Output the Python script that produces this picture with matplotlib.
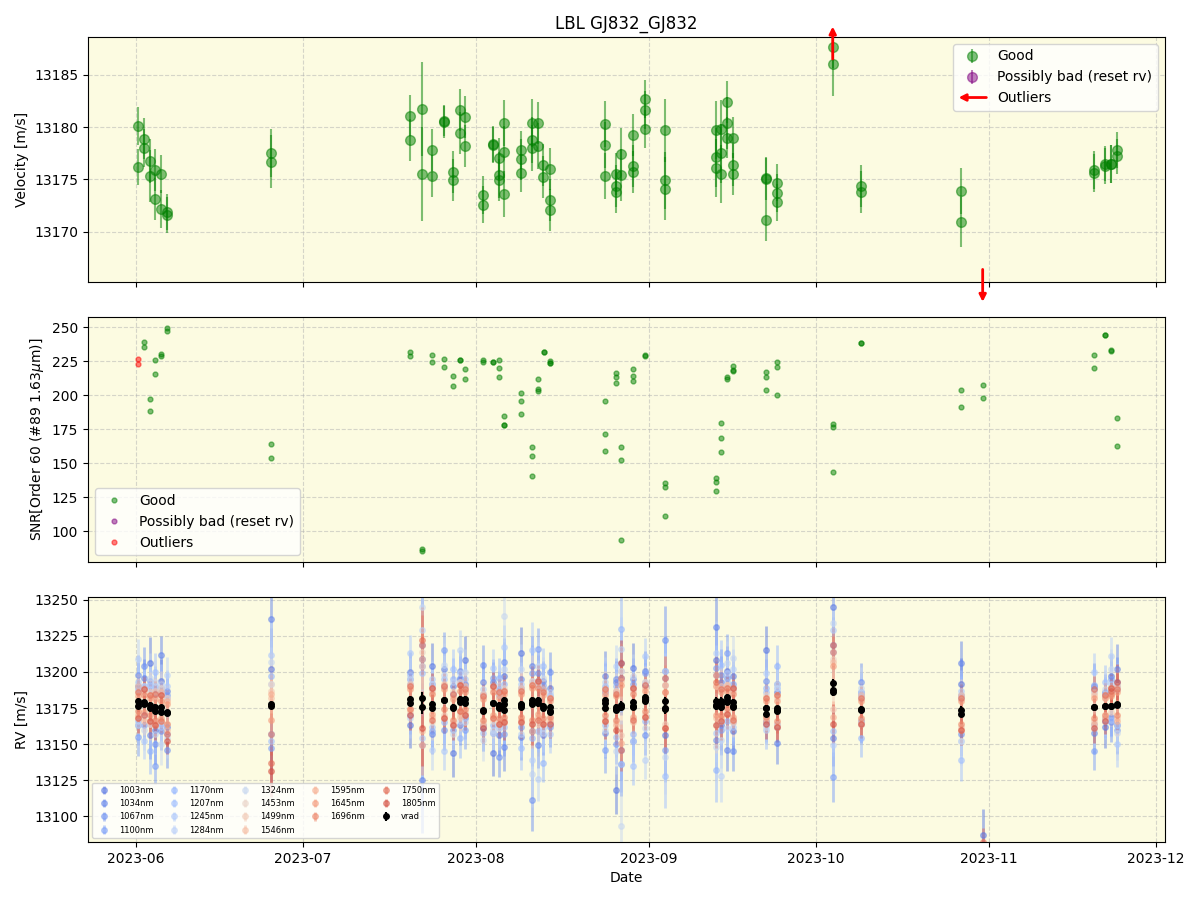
import numpy as np
import matplotlib
matplotlib.use('Agg')
import matplotlib.pyplot as plt
import matplotlib.dates as mdates
from matplotlib.patches import FancyArrowPatch
from matplotlib.legend_handler import HandlerPatch

BASE_DATE = '2023-06-01'
TITLE = 'LBL GJ832_GJ832'

# ---------------- top panel: velocity per observation (days since 2023-06-01) ----------------
rv_day = [0.4, 0.4, 1.4, 1.4, 2.5, 2.5, 3.4, 3.4, 4.5, 4.5, 5.6, 5.6, 24.3, 24.3,
          49.2, 49.2, 51.3, 51.3, 53.1, 53.1, 55.3, 55.3, 56.8, 56.8, 58.1, 58.1,
          59.1, 59.1, 62.2, 62.2, 64.0, 64.0, 65.1, 65.1, 65.1, 66.1, 66.1, 66.1,
          69.1, 69.1, 69.1, 71.0, 71.0, 71.0, 72.1, 72.1, 73.0, 73.0, 74.2, 74.2, 74.2,
          84.2, 84.2, 84.2, 86.1, 86.1, 86.1, 87.0, 87.0, 89.1, 89.1, 89.1,
          91.25, 91.25, 91.25, 95.0, 95.0, 95.0, 104.1, 104.1, 104.1, 105.0, 105.0, 105.0,
          106.1, 106.1, 106.1, 107.1, 107.1, 107.1, 113.1, 113.1, 113.1, 115.0, 115.0, 115.0,
          125.0, 125.0, 130.0, 130.0, 148.0, 148.0, 171.9, 171.9, 173.9, 173.9,
          175.0, 175.0, 176.0, 176.0]
rv_val = [13180.1, 13176.2, 13178.9, 13178.0, 13176.8, 13175.3, 13175.9, 13173.1,
          13175.5, 13172.2, 13171.9, 13171.6, 13177.5, 13176.7,
          13181.1, 13178.8, 13181.7, 13175.5, 13177.8, 13175.3, 13180.6, 13180.5,
          13175.7, 13174.9, 13181.6, 13179.4, 13181.0, 13178.2, 13173.5, 13172.6,
          13178.4, 13178.3, 13177.0, 13175.4, 13174.9, 13180.4, 13177.6, 13173.6,
          13177.8, 13176.9, 13175.6, 13180.4, 13178.8, 13178.0, 13180.4, 13178.2,
          13176.4, 13175.2, 13176.0, 13173.0, 13172.1,
          13180.3, 13178.3, 13175.3, 13175.5, 13174.4, 13173.8, 13177.4, 13175.4,
          13179.2, 13176.3, 13175.7, 13182.7, 13181.6, 13179.8, 13179.7, 13174.9, 13174.1,
          13179.7, 13177.1, 13176.1, 13179.8, 13177.5, 13175.5,
          13182.4, 13180.4, 13179.0, 13179.0, 13176.4, 13175.5, 13175.1, 13175.0, 13171.1,
          13174.7, 13173.7, 13172.8, 13187.6, 13186.0, 13174.4, 13173.8, 13173.9, 13170.9,
          13175.9, 13175.6, 13176.5, 13176.3, 13176.5, 13176.5, 13177.8, 13177.2]
rv_err = [1.8, 1.7, 2.0, 1.8, 2.1, 2.5, 2.0, 2.0, 1.8, 1.8, 1.7, 1.7, 2.3, 2.5,
          2.0, 2.0, 4.5, 4.5, 2.0, 2.0, 1.5, 1.5, 2.0, 2.0, 2.0, 2.0, 2.0, 2.0, 1.8, 1.8,
          1.7, 1.7, 2.0, 2.2, 2.0, 2.2, 2.5, 2.2, 1.8, 2.0, 1.8, 2.3, 2.2, 2.2, 2.0, 2.2,
          2.0, 2.0, 2.0, 2.0, 2.0, 2.2, 2.2, 2.2, 2.0, 2.0, 2.0, 2.5, 2.5,
          2.0, 2.0, 2.0, 1.8, 1.8, 1.8, 3.0, 2.7, 3.0, 2.8, 2.8, 2.8, 2.8, 2.8, 2.8,
          2.0, 2.5, 2.0, 2.0, 2.0, 2.0, 2.0, 2.0, 2.0, 1.8, 1.8, 1.8, 2.0, 3.0, 2.0, 2.0,
          2.2, 2.4, 1.8, 1.8, 1.7, 1.7, 1.8, 1.8, 1.7, 1.7]

# outliers (off the top panel scale)
out_day = [125.0, 151.9]
out_val = [13192.4, 13076.0]
out_err = [2.5, 3.0]

# ---------------- middle panel: SNR ----------------
snr_day = [1.4, 1.4, 2.5, 2.5, 3.4, 3.4, 4.5, 4.5, 5.6, 5.6, 24.3, 24.3,
           49.2, 49.2, 51.3, 51.3, 53.1, 53.1, 55.3, 55.3, 56.8, 56.8, 58.1, 58.1,
           59.1, 59.1, 62.2, 62.2, 64.0, 64.0, 65.1, 65.1, 65.1, 66.1, 66.1, 66.1,
           69.1, 69.1, 69.1, 71.0, 71.0, 71.0, 72.1, 72.1, 72.1, 73.2, 73.2, 74.2, 74.2, 74.2,
           84.2, 84.2, 84.2, 86.1, 86.1, 86.1, 87.0, 87.0, 87.0, 89.1, 89.1, 89.1,
           91.25, 91.25, 95.0, 95.0, 95.0, 104.1, 104.1, 104.1, 105.0, 105.0, 105.0,
           106.1, 106.1, 107.1, 107.1, 107.1, 113.1, 113.1, 113.1, 115.0, 115.0, 115.0,
           125.0, 125.0, 125.0, 130.0, 130.0, 148.0, 148.0, 151.9, 151.9,
           171.9, 171.9, 173.9, 173.9, 175.0, 175.0, 176.0, 176.0]
snr_val = [239.2, 235.3, 197.1, 188.5, 225.7, 215.4, 230.1, 228.9, 249.0, 247.3, 164.0, 154.0,
           231.9, 228.9, 85.5, 86.5, 229.4, 224.5, 226.5, 220.6, 214.0, 206.6, 225.5, 225.8,
           219.4, 211.8, 225.5, 224.5, 224.0, 224.3, 225.7, 219.9, 213.2, 184.6, 178.0, 178.3,
           201.7, 195.6, 186.0, 162.0, 155.1, 140.4, 211.8, 204.7, 203.2, 231.6, 231.9,
           225.2, 223.3, 223.8,
           195.6, 171.3, 158.8, 216.0, 213.5, 209.1, 161.8, 152.2, 93.6, 219.1, 214.0, 210.3,
           229.4, 229.0, 135.3, 132.4, 111.0, 139.0, 136.0, 129.4, 179.4, 168.4, 158.1,
           213.0, 212.0, 221.3, 217.9, 218.3, 216.9, 213.2, 203.7, 224.3, 220.6, 200.0,
           178.7, 176.7, 143.4, 238.2, 238.5, 203.7, 191.2, 207.4, 197.9,
           229.4, 219.9, 244.4, 243.9, 233.3, 232.6, 183.1, 162.5]
snr_out_day = [0.4, 0.4]
snr_out_val = [226.5, 222.8]

# ---------------- bottom panel: per-band RV per night ----------------
night_day = [0.4, 1.4, 2.5, 3.4, 4.5, 5.6, 24.3, 49.2, 51.3, 53.1,
             55.3, 56.8, 58.1, 59.1, 62.2, 64.0, 65.1, 66.1, 69.1, 71.0,
             72.1, 73.0, 74.2, 84.2, 86.1, 87.0, 89.1, 91.25, 95.0, 104.1,
             105.0, 106.1, 107.1, 113.1, 115.0, 125.0, 130.0, 148.0, 151.9, 171.9,
             173.9, 175.0, 176.0]
night_vrad = [13178, 13178, 13176, 13175, 13174, 13172, 13177, 13180, 13179, 13177,
              13180, 13175, 13181, 13180, 13173, 13178, 13176, 13177, 13177, 13179,
              13179, 13176, 13174, 13178, 13175, 13176, 13177, 13181, 13176, 13178,
              13178, 13181, 13177, 13174, 13174, 13189, 13174, 13172, 13080, 13176,
              13176, 13177, 13178]
night_err_scale = [1.0, 0.95, 1.15, 1.0, 0.95, 0.9, 1.8, 1.0, 2.6, 1.0,
                   1.0, 1.05, 1.0, 1.05, 1.0, 1.0, 1.0, 1.2, 1.15, 1.5,
                   1.1, 0.95, 1.0, 1.25, 1.05, 1.6, 1.05, 0.95, 1.7, 1.6,
                   1.3, 1.05, 1.0, 1.05, 1.05, 1.35, 0.95, 1.1, 1.1, 1.0,
                   0.9, 0.95, 1.25]

band_wavelength = [1003, 1034, 1067, 1100, 1170, 1207, 1245, 1284, 1324,
                   1453, 1499, 1546, 1595, 1645, 1696, 1750, 1805]
band_err = [16, 14, 14, 13, 14, 13, 13, 14, 15, 12, 10, 9, 8, 8, 8, 9, 10]

# residual of each band relative to the night's vrad [m/s]
dv_1003 = [12, -8, 30, -15, 20, -10, 25, -17, 30, 27, 10, -31, 14, 28, -12, -34, 8, 20, 36, -20,
           15, 12, -10, 8, -57, 20, 26, 10, -20, 30, -15, 20, -18, 41, 12, 56, -8, 20, 7, 14, -14, 20, -15]
dv_1034 = [-15, 18, -20, 10, 38, 15, 60, 20, -54, -20, 22, 15, -18, 12, 20, 15, -20, -29, -22, 25,
           -30, 18, 15, 19, 18, -40, -25, 20, 25, 53, 15, -35, 20, -8, -23, -35, 12, 34, -20, -18, 10, -8, 24]
dv_1067 = [20, 26, 15, -25, -15, -26, -20, 15, 40, 15, -20, 10, 20, -12, 32, -20, -35, 30, 18, -68,
           20, -20, 26, -20, 20, 30, 18, -25, 46, -25, 20, 15, -32, 20, 18, 30, 19, -15, -25, 12, 8, -12, 15]
dv_1100 = [-23, -15, 18, -40, 15, 12, -30, -10, 25, -18, 35, -15, 15, -20, -10, 18, 12, -20, -15, 20,
           37, 15, -12, -32, -25, -30, 15, 18, -30, 25, -18, 32, 15, -10, -12, -62, 10, 12, -30, -31, -10, 18, -18]
dv_1170 = [10, 12, -31, 15, -10, -15, 20, 12, -30, 12, -15, 20, -27, 10, 12, -15, 20, 15, 12, -25,
           12, -39, 10, 12, 15, 54, -20, -15, 20, -46, 12, -15, 12, 15, 30, 25, -20, 10, -35, 15, 8, 10, 10]
dv_1207 = [-12, 10, 12, 25, 12, 10, -25, 18, 20, -15, 15, 27, 12, -10, -15, 12, -15, -15, -30, 15,
           -20, 28, 8, -15, -20, 25, -42, 12, -48, 20, 27, 12, -12, 12, -10, -30, 8, -33, -40, -12, 17, -10, 12]
dv_1245 = [15, -26, -12, 12, -12, 18, 35, 33, -25, 18, -35, -12, 18, 15, 10, 25, 10, 40, 15, 36,
           15, -15, -17, 10, 12, -40, 12, 30, 15, -20, -12, 18, -15, -14, 15, 40, -10, 15, -45, 24, -8, 15, -28]
dv_1284 = [31, 12, 15, -18, 18, 26, 15, -12, 50, -31, 18, 18, 34, -15, 15, -18, 15, 25, -20, -40,
           -53, -18, 12, 15, 29, 40, -25, -42, 25, 35, -50, -20, 25, 25, 15, -40, 12, -20, -50, 10, -10, 34, -15]
dv_1324 = [-15, -18, 20, 18, -24, -18, 30, 15, 66, 15, 25, -18, -15, 20, -20, -20, -15, 62, 25, -50,
           25, 20, -10, -18, -30, -83, 20, -20, -35, -30, -25, 25, 33, -12, 18, 45, 15, -20, -40, -15, 12, 25, -20]
dv_1453 = [8, -10, 10, 8, 15, -8, 15, 10, 35, -12, 10, 12, -10, 8, 10, -12, 8, 12, 10, 15,
           -15, 10, 8, -10, 12, 25, -10, 12, 15, -15, 10, 10, -10, 10, 8, 20, 8, 10, -45, 10, 6, 12, 10]
dv_1499 = [-10, 8, -12, -10, -8, 10, 10, -8, 25, 10, -10, -10, 12, -8, -8, 10, -10, -10, -12, -15,
           12, -10, -6, 10, -10, -20, 10, -10, -12, 12, -12, -8, 10, -6, -10, -15, -8, -10, -50, -10, -6, -5, -10]
dv_1546 = [12, -12, 8, 12, 10, -12, 5, 12, -20, -8, 12, 8, -12, 10, 12, -10, 10, 10, 12, 12,
           -10, 12, 8, 8, 12, 18, -12, 8, 10, -10, 12, 10, -12, 8, 10, 18, 10, 12, -55, 8, 8, 8, 12]
dv_1595 = [-8, 10, -10, -12, 12, 8, 8, -6, 30, 12, -12, -12, 10, -10, -10, 12, -12, -12, -10, -20,
           15, -12, -8, -12, -12, -25, 12, -12, 15, 12, -10, -10, 12, -8, -12, -20, -10, -12, -60, -12, -8, 12, -12]
dv_1645 = [5, -6, 6, 6, -6, 6, -10, 8, -30, -6, 8, 6, -8, 6, 8, -8, 6, 8, 8, 10,
           -8, 8, 6, 6, 8, 15, -8, 6, -15, -8, 8, 6, -8, 6, 6, 15, 6, 8, -65, 6, 6, 6, 8]
dv_1696 = [-5, 6, -6, -8, 6, -8, -20, -6, 40, 8, -6, -8, 6, -6, -6, 8, -8, -8, -8, -12,
           10, -8, -5, -8, -8, 20, 8, -8, 10, 20, -8, -6, 8, -5, -8, 25, -6, -8, -70, -8, -6, 8, -8]
dv_1750 = [8, -8, 8, 10, -8, -15, -40, 10, 43, -10, 10, 10, -8, 8, 10, -10, 10, 10, 10, 12,
           -12, 10, 8, 10, 10, -30, -10, 10, 20, 15, 10, 8, -10, 8, 10, 30, 8, 10, 2, 12, 8, 10, 10]
dv_1805 = [-10, 10, -10, -12, 10, -20, -46, -10, -18, 12, -12, -12, 10, -10, -12, 12, -12, -12, -12, -15,
           15, -12, -10, -12, -15, 30, 12, -12, -15, -15, -12, -10, 12, -10, -12, -25, -10, -12, -8, -15, -10, 12, 15]
band_dv = [dv_1003, dv_1034, dv_1067, dv_1100, dv_1170, dv_1207, dv_1245, dv_1284, dv_1324,
           dv_1453, dv_1499, dv_1546, dv_1595, dv_1645, dv_1696, dv_1750, dv_1805]


def to_dates(days):
    return np.datetime64(BASE_DATE) + (np.asarray(days, dtype=float) * 86400).astype('timedelta64[s]')


class ArrowHandler(HandlerPatch):
    def create_artists(self, legend, orig_handle, xdescent, ydescent, width, height, fontsize, trans):
        y = height / 2 - ydescent
        a = FancyArrowPatch((width - xdescent, y), (-xdescent, y), arrowstyle='-|>',
                            mutation_scale=10, color='red', lw=2, shrinkA=0, shrinkB=0)
        a.set_transform(trans)
        return [a]


BG = '#fcfbe1'
fig, (ax1, ax2, ax3) = plt.subplots(3, 1, figsize=(12, 9), dpi=100, sharex=True)
fig.subplots_adjust(left=0.0733, right=0.9708, top=0.9589, bottom=0.0644, hspace=0.143)

for ax in (ax1, ax2, ax3):
    ax.set_facecolor(BG)
    ax.grid(True, linestyle='--', alpha=0.5)
    ax.set_axisbelow(True)

# --- top
ax1.errorbar(to_dates(rv_day), rv_val, yerr=rv_err, fmt='o', color='green', alpha=0.5,
             ms=7, elinewidth=1.5, label='Good')
ax1.errorbar([], [], yerr=[], fmt='o', color='purple', alpha=0.5, ms=7, label='Possibly bad (reset rv)')
ax1.set_ylim(13165.2, 13188.6)
ax1.set_yticks([13170, 13175, 13180, 13185])
ax1.set_ylabel('Velocity [m/s]')
ax1.set_title(TITLE)
up_x = mdates.date2num(to_dates([out_day[0]]))[0]
dn_x = mdates.date2num(to_dates([out_day[1]]))[0]
ax1.annotate('', xy=(up_x, 13189.6), xytext=(up_x, 13186.5),
             arrowprops=dict(arrowstyle='-|>', color='red', lw=2, mutation_scale=10, shrinkA=0, shrinkB=0),
             annotation_clip=False)
ax1.annotate('', xy=(dn_x, 13163.3), xytext=(dn_x, 13166.4),
             arrowprops=dict(arrowstyle='-|>', color='red', lw=2, mutation_scale=10, shrinkA=0, shrinkB=0),
             annotation_clip=False)
h, l = ax1.get_legend_handles_labels()
arrow_proxy = FancyArrowPatch((0, 0), (1, 0), color='red')
ax1.legend(h + [arrow_proxy], l + ['Outliers'], loc='upper right',
           handler_map={FancyArrowPatch: ArrowHandler()})

# --- middle
ax2.plot(to_dates(snr_day), snr_val, 'o', color='green', alpha=0.5, ms=3.5, label='Good')
ax2.plot([], [], 'o', color='purple', alpha=0.5, ms=3.5, label='Possibly bad (reset rv)')
ax2.plot(to_dates(snr_out_day), snr_out_val, 'o', color='red', alpha=0.5, ms=3.5, label='Outliers')
ax2.set_ylim(77.2, 257.4)
ax2.set_yticks([100, 125, 150, 175, 200, 225, 250])
ax2.set_ylabel(r'SNR[Order 60 (#89 1.63$\mu$m)]')
ax2.legend(loc='lower left')

# --- bottom
cmap = plt.get_cmap('coolwarm')
nd = to_dates(night_day)
nv = np.asarray(night_vrad, dtype=float)
ns = np.asarray(night_err_scale, dtype=float)
for i, wl in enumerate(band_wavelength):
    col = cmap((wl - 900) / 1000.0)
    ax3.errorbar(nd, nv + np.asarray(band_dv[i], dtype=float), yerr=band_err[i] * ns, fmt='o',
                 color=col, alpha=0.5, ms=4, elinewidth=2, label=f'{wl}nm')
ax3.errorbar(to_dates(rv_day + out_day), rv_val + out_val, yerr=rv_err + out_err, fmt='o',
             color='black', ms=4, label='vrad')
ax3.set_ylim(13082, 13252)
ax3.set_yticks([13100, 13125, 13150, 13175, 13200, 13225, 13250])
ax3.set_ylabel('RV [m/s]')
ax3.set_xlabel('Date')
ax3.legend(loc='lower left', ncol=5, fontsize=6, columnspacing=1.5)

ax3.set_xlim(to_dates([-8.6])[0], to_dates([184.6])[0])
ax3.xaxis.set_major_locator(mdates.MonthLocator())
ax3.xaxis.set_major_formatter(mdates.DateFormatter('%Y-%m'))

fig.savefig('out.png', dpi=100)
